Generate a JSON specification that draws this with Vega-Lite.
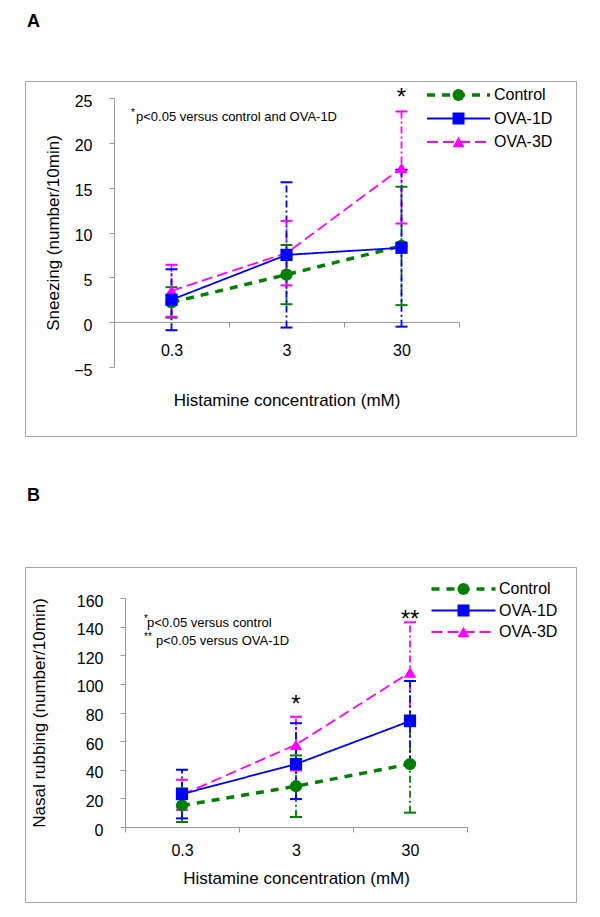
{
  "$schema": "https://vega.github.io/schema/vega-lite/v6.json",
  "background": "white",
  "padding": {"left": 24, "top": 12, "right": 25, "bottom": 17},
  "config": {
    "font": "Liberation Sans",
    "view": {"stroke": "#a6a6a6", "strokeWidth": 1},
    "axis": {"grid": false, "domainColor": "#9a9a9a", "tickColor": "#9a9a9a", "labelColor": "#000000", "titleColor": "#000000", "labelFont": "Liberation Sans", "titleFont": "Liberation Sans", "labelFontSize": 16, "titleFontSize": 17, "titleFontWeight": "normal", "tickSize": 5, "domainWidth": 1},
    "legend": {"labelFont": "Liberation Sans", "labelFontSize": 16, "labelColor": "#000000", "padding": 0},
    "title": {"font": "Liberation Sans", "color": "#000000"},
    "text": {"font": "Liberation Sans", "color": "#000000"}
  },
  "datasets": {
    "a": [
      {"conc": "0.3", "series": "Control", "mean": 2.2, "lo": 0.5, "hi": 3.9},
      {"conc": "3", "series": "Control", "mean": 5.3, "lo": 2.0, "hi": 8.6},
      {"conc": "30", "series": "Control", "mean": 8.5, "lo": 1.9, "hi": 15.1},
      {"conc": "0.3", "series": "OVA-3D", "mean": 3.5, "lo": 0.6, "hi": 6.4},
      {"conc": "3", "series": "OVA-3D", "mean": 7.7, "lo": 4.1, "hi": 11.3},
      {"conc": "30", "series": "OVA-3D", "mean": 17.2, "lo": 11.0, "hi": 23.5},
      {"conc": "0.3", "series": "OVA-1D", "mean": 2.5, "lo": -0.9, "hi": 5.9},
      {"conc": "3", "series": "OVA-1D", "mean": 7.5, "lo": -0.6, "hi": 15.6},
      {"conc": "30", "series": "OVA-1D", "mean": 8.3, "lo": -0.5, "hi": 17.0}
    ],
    "b": [
      {"conc": "0.3", "series": "Control", "mean": 15, "lo": 3.5, "hi": 27},
      {"conc": "3", "series": "Control", "mean": 28.5, "lo": 7, "hi": 50},
      {"conc": "30", "series": "Control", "mean": 44, "lo": 10, "hi": 78},
      {"conc": "0.3", "series": "OVA-3D", "mean": 22.5, "lo": 12, "hi": 33},
      {"conc": "3", "series": "OVA-3D", "mean": 57.5, "lo": 39.5, "hi": 77},
      {"conc": "30", "series": "OVA-3D", "mean": 108, "lo": 73, "hi": 143},
      {"conc": "0.3", "series": "OVA-1D", "mean": 23, "lo": 6, "hi": 40},
      {"conc": "3", "series": "OVA-1D", "mean": 44, "lo": 19.5, "hi": 72.5},
      {"conc": "30", "series": "OVA-1D", "mean": 74, "lo": 45, "hi": 102}
    ],
    "starsA": [{"conc": "30", "y": 25.0, "label": "*"}],
    "starsB": [{"conc": "3", "y": 85, "label": "*"}, {"conc": "30", "y": 144.7, "label": "**"}]
  },
  "resolve": {"scale": {"color": "independent", "shape": "independent", "strokeDash": "independent", "strokeWidth": "independent"}},
  "spacing": 49,
  "vconcat": [
    {
      "title": {"text": "A", "anchor": "start", "offset": 50, "dx": 2, "fontSize": 18, "fontWeight": "bold"},
      "width": 551,
      "height": 355,
      "data": {"name": "a"},
      "resolve": {"scale": {"color": "independent", "shape": "independent", "strokeDash": "independent", "strokeWidth": "independent"}},
      "layer": [
        {
          "mark": {"type": "rule", "strokeDash": [7, 3, 2, 3], "strokeWidth": 1.8},
          "encoding": {
            "x": {"field": "conc", "type": "ordinal", "scale": {"type": "band", "domain": ["0.3", "3", "30"], "range": [89, 434], "paddingInner": 0, "paddingOuter": 0}, "axis": {"title": "Histamine concentration (mM)", "labelAngle": 0, "offset": -114, "tickBand": "extent", "labelPadding": 15, "titlePadding": 34}},
            "y": {"field": "lo", "type": "quantitative", "scale": {"domain": [-5, 25], "range": [286, 17], "nice": false, "zero": false}, "axis": {"title": "Sneezing (number/10min)", "values": [-5, 0, 5, 10, 15, 20, 25], "offset": -89, "labelPadding": 17, "titlePadding": 11, "labelOffset": 3}},
            "y2": {"field": "hi"},
            "color": {"field": "series", "type": "nominal", "scale": {"domain": ["Control", "OVA-1D", "OVA-3D"], "range": ["#008000", "#0000ff", "#ff00ff"]}, "legend": null}
          }
        },
        {
          "mark": {"type": "tick", "size": 12, "thickness": 2, "opacity": 1},
          "encoding": {
            "x": {"field": "conc", "type": "ordinal"},
            "y": {"field": "lo", "type": "quantitative"},
            "color": {"field": "series", "type": "nominal", "scale": {"domain": ["Control", "OVA-1D", "OVA-3D"], "range": ["#008000", "#0000ff", "#ff00ff"]}, "legend": null}
          }
        },
        {
          "mark": {"type": "tick", "size": 12, "thickness": 2, "opacity": 1},
          "encoding": {
            "x": {"field": "conc", "type": "ordinal"},
            "y": {"field": "hi", "type": "quantitative"},
            "color": {"field": "series", "type": "nominal", "scale": {"domain": ["Control", "OVA-1D", "OVA-3D"], "range": ["#008000", "#0000ff", "#ff00ff"]}, "legend": null}
          }
        },
        {
          "mark": {"type": "line"},
          "encoding": {
            "x": {"field": "conc", "type": "ordinal"},
            "y": {"field": "mean", "type": "quantitative"},
            "color": {"field": "series", "type": "nominal", "scale": {"domain": ["Control", "OVA-1D", "OVA-3D"], "range": ["#008000", "#0000ff", "#ff00ff"]}, "legend": {"orient": "none", "legendX": 425.5, "legendY": 6, "title": null, "symbolType": "M-15.75,0H15.75", "symbolSize": 16, "labelOffset": 27.5, "rowPadding": 7.5}},
            "strokeDash": {"field": "series", "type": "nominal", "scale": {"domain": ["Control", "OVA-1D", "OVA-3D"], "range": [[8, 7], [1, 0], [11, 5]]}},
            "strokeWidth": {"field": "series", "type": "nominal", "scale": {"type": "ordinal", "domain": ["Control", "OVA-1D", "OVA-3D"], "range": [3.5, 1.8, 1.8]}}
          }
        },
        {
          "mark": {"type": "point", "filled": true, "opacity": 1, "size": 150},
          "encoding": {
            "x": {"field": "conc", "type": "ordinal"},
            "y": {"field": "mean", "type": "quantitative"},
            "color": {"field": "series", "type": "nominal", "scale": {"domain": ["Control", "OVA-1D", "OVA-3D"], "range": ["#008000", "#0000ff", "#ff00ff"]}, "legend": {"orient": "none", "legendX": 425.5, "legendY": 6, "title": null, "symbolSize": 144, "labelOffset": 27.5, "rowPadding": 7.5, "labelOpacity": 0}},
            "shape": {"field": "series", "type": "nominal", "scale": {"domain": ["Control", "OVA-1D", "OVA-3D"], "range": ["circle", "square", "triangle-up"]}}
          }
        },
        {
          "data": {"name": "starsA"},
          "mark": {"type": "text", "fontSize": 24, "baseline": "middle"},
          "encoding": {
            "x": {"field": "conc", "type": "ordinal"},
            "y": {"field": "y", "type": "quantitative"},
            "text": {"field": "label"}
          }
        },
        {
          "data": {"values": [{}]},
          "mark": {"type": "text", "fontSize": 10, "align": "left", "baseline": "middle", "dx": -40.5, "dy": -4},
          "encoding": {"x": {"datum": "0.3", "type": "ordinal"}, "y": {"datum": 22.9, "type": "quantitative"}, "text": {"value": "*"}}
        },
        {
          "data": {"values": [{}]},
          "mark": {"type": "text", "fontSize": 13, "align": "left", "baseline": "middle", "dx": -35.5},
          "encoding": {"x": {"datum": "0.3", "type": "ordinal"}, "y": {"datum": 22.9, "type": "quantitative"}, "text": {"value": "p<0.05 versus control and OVA-1D"}}
        }
      ]
    },
    {
      "title": {"text": "B", "anchor": "start", "offset": 62, "dx": 2, "fontSize": 18, "fontWeight": "bold"},
      "width": 551,
      "height": 335,
      "data": {"name": "b"},
      "resolve": {"scale": {"color": "independent", "shape": "independent", "strokeDash": "independent", "strokeWidth": "independent"}},
      "layer": [
        {
          "mark": {"type": "rule", "strokeDash": [7, 3, 2, 3], "strokeWidth": 1.8},
          "encoding": {
            "x": {"field": "conc", "type": "ordinal", "scale": {"type": "band", "domain": ["0.3", "3", "30"], "range": [100, 442], "paddingInner": 0, "paddingOuter": 0}, "axis": {"title": "Histamine concentration (mM)", "labelAngle": 0, "offset": -75, "tickBand": "extent", "labelPadding": 10, "titlePadding": 12}},
            "y": {"field": "lo", "type": "quantitative", "scale": {"domain": [0, 160], "range": [260, 31], "nice": false, "zero": false}, "axis": {"title": "Nasal rubbing (number/10min)", "values": [0, 20, 40, 60, 80, 100, 120, 140, 160], "offset": -100, "labelPadding": 17, "titlePadding": 28, "labelOffset": 3}},
            "y2": {"field": "hi"},
            "color": {"field": "series", "type": "nominal", "scale": {"domain": ["Control", "OVA-1D", "OVA-3D"], "range": ["#008000", "#0000ff", "#ff00ff"]}, "legend": null}
          }
        },
        {
          "mark": {"type": "tick", "size": 12, "thickness": 2, "opacity": 1},
          "encoding": {
            "x": {"field": "conc", "type": "ordinal"},
            "y": {"field": "lo", "type": "quantitative"},
            "color": {"field": "series", "type": "nominal", "scale": {"domain": ["Control", "OVA-1D", "OVA-3D"], "range": ["#008000", "#0000ff", "#ff00ff"]}, "legend": null}
          }
        },
        {
          "mark": {"type": "tick", "size": 12, "thickness": 2, "opacity": 1},
          "encoding": {
            "x": {"field": "conc", "type": "ordinal"},
            "y": {"field": "hi", "type": "quantitative"},
            "color": {"field": "series", "type": "nominal", "scale": {"domain": ["Control", "OVA-1D", "OVA-3D"], "range": ["#008000", "#0000ff", "#ff00ff"]}, "legend": null}
          }
        },
        {
          "mark": {"type": "line"},
          "encoding": {
            "x": {"field": "conc", "type": "ordinal"},
            "y": {"field": "mean", "type": "quantitative"},
            "color": {"field": "series", "type": "nominal", "scale": {"domain": ["Control", "OVA-1D", "OVA-3D"], "range": ["#008000", "#0000ff", "#ff00ff"]}, "legend": {"orient": "none", "legendX": 430.5, "legendY": 14, "title": null, "symbolType": "M-16,0H16", "symbolSize": 16, "labelOffset": 27.5, "rowPadding": 5.5}},
            "strokeDash": {"field": "series", "type": "nominal", "scale": {"domain": ["Control", "OVA-1D", "OVA-3D"], "range": [[8, 7], [1, 0], [11, 5]]}},
            "strokeWidth": {"field": "series", "type": "nominal", "scale": {"type": "ordinal", "domain": ["Control", "OVA-1D", "OVA-3D"], "range": [3.5, 1.8, 1.8]}}
          }
        },
        {
          "mark": {"type": "point", "filled": true, "opacity": 1, "size": 150},
          "encoding": {
            "x": {"field": "conc", "type": "ordinal"},
            "y": {"field": "mean", "type": "quantitative"},
            "color": {"field": "series", "type": "nominal", "scale": {"domain": ["Control", "OVA-1D", "OVA-3D"], "range": ["#008000", "#0000ff", "#ff00ff"]}, "legend": {"orient": "none", "legendX": 430.5, "legendY": 14, "title": null, "symbolSize": 144, "labelOffset": 27.5, "rowPadding": 5.5, "labelOpacity": 0}},
            "shape": {"field": "series", "type": "nominal", "scale": {"domain": ["Control", "OVA-1D", "OVA-3D"], "range": ["circle", "square", "triangle-up"]}}
          }
        },
        {
          "data": {"name": "starsB"},
          "mark": {"type": "text", "fontSize": 24, "baseline": "middle"},
          "encoding": {
            "x": {"field": "conc", "type": "ordinal"},
            "y": {"field": "y", "type": "quantitative"},
            "text": {"field": "label"}
          }
        },
        {
          "data": {"values": [{}]},
          "mark": {"type": "text", "fontSize": 10, "align": "left", "baseline": "middle", "dx": -38, "dy": -4},
          "encoding": {"x": {"datum": "0.3", "type": "ordinal"}, "y": {"datum": 142.6, "type": "quantitative"}, "text": {"value": "*"}}
        },
        {
          "data": {"values": [{}]},
          "mark": {"type": "text", "fontSize": 13, "align": "left", "baseline": "middle", "dx": -35},
          "encoding": {"x": {"datum": "0.3", "type": "ordinal"}, "y": {"datum": 142.6, "type": "quantitative"}, "text": {"value": "p<0.05 versus control"}}
        },
        {
          "data": {"values": [{}]},
          "mark": {"type": "text", "fontSize": 10, "align": "left", "baseline": "middle", "dx": -38, "dy": -4},
          "encoding": {"x": {"datum": "0.3", "type": "ordinal"}, "y": {"datum": 130, "type": "quantitative"}, "text": {"value": "**"}}
        },
        {
          "data": {"values": [{}]},
          "mark": {"type": "text", "fontSize": 13, "align": "left", "baseline": "middle", "dx": -26},
          "encoding": {"x": {"datum": "0.3", "type": "ordinal"}, "y": {"datum": 130, "type": "quantitative"}, "text": {"value": "p<0.05 versus OVA-1D"}}
        }
      ]
    }
  ]
}
